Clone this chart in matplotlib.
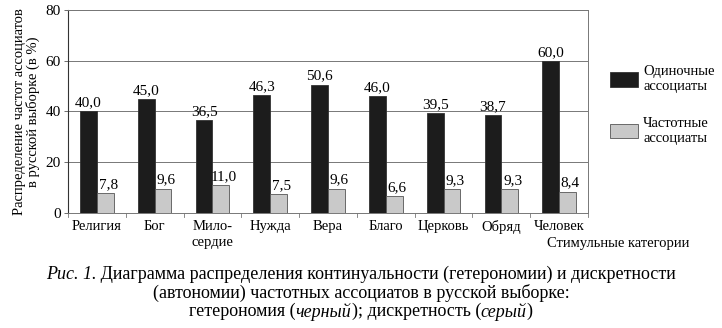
import matplotlib
matplotlib.use("Agg")
import matplotlib.pyplot as plt
import numpy as np
from matplotlib.patches import Rectangle

plt.rcParams["font.family"] = ["Liberation Serif", "DejaVu Serif"]

categories = ["Религия", "Бог", "Мило-\nсердие", "Нужда", "Вера",
              "Благо", "Церковь", "Обряд", "Человек"]
single = [40.0, 45.0, 36.5, 46.3, 50.6, 46.0, 39.5, 38.7, 60.0]
frequent = [7.8, 9.6, 11.0, 7.5, 9.6, 6.6, 9.3, 9.3, 8.4]
series_names = ["Одиночные\nассоциаты", "Частотные\nассоциаты"]

fig = plt.figure(figsize=(7.22, 3.28), dpi=100)
ax = fig.add_axes([0.0942, 0.3506, 0.7202, 0.619])

x = np.arange(len(categories))
w = 0.29
ax.bar(x - w / 2, single, w, color="#1c1c1c", edgecolor="#333333", linewidth=0.6, zorder=3)
ax.bar(x + w / 2, frequent, w, color="#c9c9c9", edgecolor="#555555", linewidth=0.6, zorder=3)

fmt = lambda v: f"{v:.1f}".replace(".", ",")
for xi, v in zip(x, single):
    ax.text(xi - w / 2, v + 0.8, fmt(v), ha="center", va="bottom", fontsize=11)
for xi, v in zip(x, frequent):
    ax.text(xi + w / 2 + 0.05, v + 0.8, fmt(v), ha="center", va="bottom", fontsize=11)

ax.set_xlim(-0.5, len(categories) - 0.5)
ax.set_ylim(0, 80)
ax.set_yticks([0, 20, 40, 60, 80])
ax.tick_params(axis="y", labelsize=11, length=3, width=0.6, color="#555555", pad=2)
ax.grid(axis="y", color="#777777", linewidth=0.7, zorder=0)

# category labels at centres, tick marks on the boundaries
ax.set_xticks(x)
ax.set_xticklabels(categories, fontsize=10.5, linespacing=1.3)
ax.tick_params(axis="x", length=0, pad=5)
for b in np.arange(-0.5, len(categories), 1.0):
    ax.plot([b, b], [0, -1.5], color="#777777", lw=0.6, clip_on=False)

for side in ["top", "right", "bottom"]:
    ax.spines[side].set_color("#777777")
    ax.spines[side].set_linewidth(0.7)
ax.spines["left"].set_color("#333333")
ax.spines["left"].set_linewidth(0.8)

ax.set_ylabel("Распределение частот ассоциатов\nв русской выборке (в %)",
              fontsize=10.5, linespacing=1.05, labelpad=4)

fig.text(0.955, 0.257, "Стимульные категории", ha="right", va="center", fontsize=10.5)

# legend drawn by hand in figure coordinates
legend_items = [("#1c1c1c", "#333333", 0.758), ("#c9c9c9", "#555555", 0.6)]
for (fc, ec, yc), name in zip(legend_items, series_names):
    fig.patches.append(Rectangle((0.845, yc - 0.022), 0.038, 0.044, facecolor=fc,
                                 edgecolor=ec, lw=0.6, transform=fig.transFigure))
    fig.text(0.891, yc, name, ha="left", va="center", fontsize=10.5, linespacing=1.2)

# caption with italic fragments, laid out piece by piece
caption = [
    [("Рис. 1.", "italic"), (" Диаграмма распределения континуальности (гетерономии) и дискретности", "normal")],
    [("(автономии) частотных ассоциатов в русской выборке:", "normal")],
    [("гетерономия (", "normal"), ("черный", "italic"), ("); дискретность (", "normal"),
     ("серый", "italic"), (")", "normal")],
]
line_y = [0.164, 0.107, 0.05]
renderer = fig.canvas.get_renderer()
for parts, yy in zip(caption, line_y):
    texts = [fig.text(0, yy, s, style=st, fontsize=13.0, va="center", ha="left")
             for s, st in parts]
    widths = [t.get_window_extent(renderer).width / fig.bbox.width for t in texts]
    xpos = 0.5 - sum(widths) / 2
    for t, wd in zip(texts, widths):
        t.set_x(xpos)
        xpos += wd

fig.savefig("out.png", dpi=100)
